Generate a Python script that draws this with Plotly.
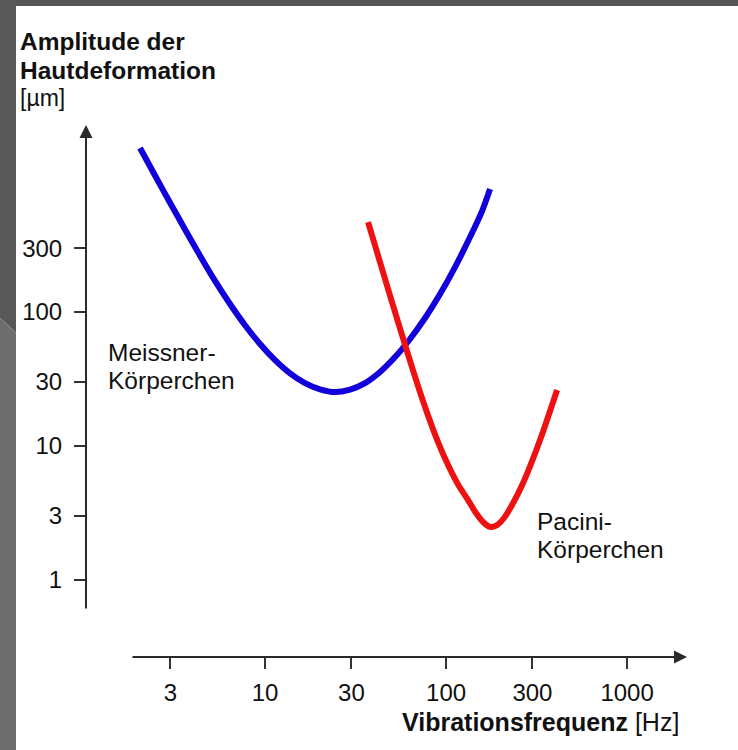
import plotly.graph_objects as go

# ---------------- data ----------------
meissner_freq = [2.039, 2.468, 2.987, 3.614, 4.374, 5.294, 6.407, 7.755, 9.384, 11.36,
                 13.75, 16.63, 20.13, 24.37, 29.49, 35.69, 43.19, 52.27, 63.25, 76.56,
                 92.66, 112.1, 135.7, 158.1, 175.0]
meissner_amp = [1675, 1044, 654.2, 413.5, 263.6, 170.9, 114.8, 79.7, 57.8, 43.8,
                34.9, 29.5, 26.5, 25.3, 26.4, 29.5, 35.7, 46.1, 62.9, 90.2,
                136.2, 216.7, 362.8, 567.2, 828]

pacini_freq = [37.08, 42.11, 47.82, 54.30, 61.67, 70.02, 79.53, 90.32, 102.6, 116.5,
               132.3, 146.4, 160.1, 175.0, 191.3, 209.1, 231.5, 266.4, 330.6, 410.5]
pacini_amp = [469.6, 264.0, 148.5, 84.2, 48.2, 28.0, 16.9, 10.7, 7.21, 5.16,
              3.95, 3.16, 2.71, 2.49, 2.57, 2.90, 3.63, 5.30, 11.1, 26.2]

x_tick_vals = [3, 10, 30, 100, 300, 1000]
x_tick_text = ["3", "10", "30", "100", "300", "1000"]
y_tick_vals = [1, 3, 10, 30, 100, 300]
y_tick_text = ["1", "3", "10", "30", "100", "300"]

# ---------------- layout geometry (pixels) ----------------
W, H = 738, 750
L, R, T, B = 86, 687, 125, 657
PW, PH = R - L, B - T


def px(x):
    return (x - L) / PW


def py(y):
    return (B - y) / PH


FONT = "Liberation Sans, Arial, Helvetica, sans-serif"
TXT = "#111111"

fig = go.Figure()
fig.add_trace(go.Scatter(x=meissner_freq, y=meissner_amp, mode="lines",
                         line=dict(color="#1200dc", width=6, shape="spline", smoothing=0.8),
                         hoverinfo="skip", showlegend=False))
fig.add_trace(go.Scatter(x=pacini_freq, y=pacini_amp, mode="lines",
                         line=dict(color="#ee1111", width=6, shape="spline", smoothing=0.8),
                         hoverinfo="skip", showlegend=False))

annotations = []
# y-axis title lines
for txt, bold, yy in [("Amplitude der", True, 42), ("Hautdeformation", True, 70), ("[µm]", False, 98)]:
    annotations.append(dict(
        xref="paper", yref="paper", x=px(19), y=py(yy),
        xanchor="left", yanchor="middle", showarrow=False, borderpad=0,
        text=f"<b>{txt}</b>" if bold else txt,
        font=dict(family=FONT, size=24.5 if bold else 23, color=TXT)))
# x-axis title
annotations.append(dict(xref="paper", yref="paper", x=px(681), y=py(722),
                        xanchor="right", yanchor="middle", showarrow=False,
                        text="<b>Vibrationsfrequenz</b> [Hz]",
                        font=dict(family=FONT, size=25, color=TXT)))
# curve labels
for txt, x, y in [("Meissner-", 107, 352), ("Körperchen", 107, 380),
                  ("Pacini-", 536, 521), ("Körperchen", 536, 549)]:
    annotations.append(dict(xref="paper", yref="paper", x=px(x), y=py(y),
                            xanchor="left", yanchor="middle", showarrow=False, borderpad=0,
                            text=txt, font=dict(family=FONT, size=24.5, color=TXT)))
# axis arrows
annotations.append(dict(xref="paper", yref="paper", x=px(687), y=py(657),
                        axref="pixel", ayref="pixel", ax=-(687 - 131), ay=0,
                        text="", showarrow=True, arrowhead=2, arrowsize=1.3,
                        arrowwidth=2, arrowcolor="#2a2a2a", standoff=0))
annotations.append(dict(xref="paper", yref="paper", x=px(86), y=py(125),
                        axref="pixel", ayref="pixel", ax=0, ay=(610 - 125),
                        text="", showarrow=True, arrowhead=2, arrowsize=1.3,
                        arrowwidth=2, arrowcolor="#2a2a2a", standoff=0))

shapes = [
    # slide frame: top bar and left bar
    dict(type="rect", xref="paper", yref="paper", x0=px(0), x1=px(W), y0=py(6), y1=py(0),
         fillcolor="#555555", line=dict(width=0), layer="above"),
    dict(type="path", xref="paper", yref="paper",
         path=f"M {px(0)},{py(0)} L {px(16)},{py(0)} L {px(16)},{py(333)} L {px(0)},{py(318)} Z",
         fillcolor="#585858", line=dict(width=0), layer="above"),
    dict(type="path", xref="paper", yref="paper",
         path=f"M {px(0)},{py(318)} L {px(16)},{py(333)} L {px(16)},{py(H)} L {px(0)},{py(H)} Z",
         fillcolor="#6d6d6d", line=dict(width=0), layer="above"),
    dict(type="line", xref="paper", yref="paper", x0=px(0), y0=py(318), x1=px(16), y1=py(333),
         line=dict(color="#8a8a8a", width=1), layer="above"),
]

fig.update_layout(
    width=W, height=H,
    margin=dict(l=L, r=W - R, t=T, b=H - B, pad=0),
    paper_bgcolor="white", plot_bgcolor="white",
    showlegend=False,
    annotations=annotations,
    shapes=shapes,
    xaxis=dict(type="log", range=[0.011, 3.331], showgrid=False, zeroline=False,
               showline=False, ticks="outside", ticklen=11, tickwidth=2, tickcolor="#333",
               tickvals=x_tick_vals, ticktext=x_tick_text, ticklabelstandoff=3,
               tickfont=dict(family=FONT, size=24, color=TXT), fixedrange=True),
    yaxis=dict(type="log", range=[-0.575, 3.396], showgrid=False, zeroline=False,
               showline=False, ticks="outside", ticklen=11, tickwidth=2, tickcolor="#333",
               tickvals=y_tick_vals, ticktext=y_tick_text, ticklabelstandoff=7,
               tickfont=dict(family=FONT, size=24, color=TXT), fixedrange=True),
)

fig.write_html("out.html", config={"displayModeBar": False})
